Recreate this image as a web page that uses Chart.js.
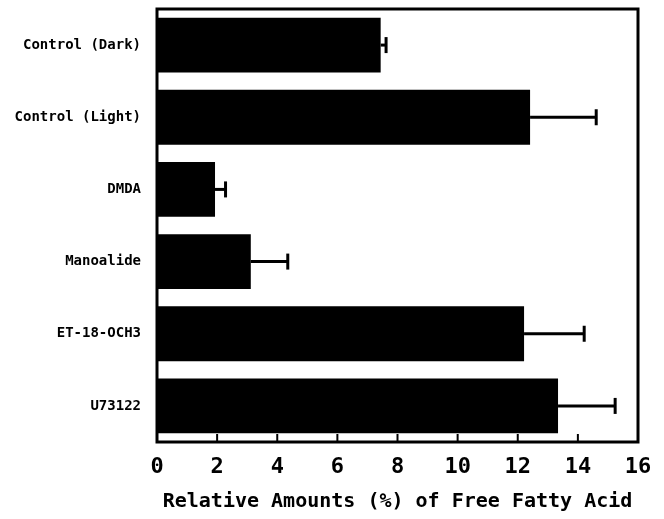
<!DOCTYPE html>
<html>
<head>
<meta charset="utf-8">
<script src="https://cdn.jsdelivr.net/npm/chart.js@4/dist/chart.umd.min.js"></script>
<style>
  html, body { margin: 0; padding: 0; background: #fff; }
  #wrap { width: 664px; height: 519px; }
</style>
</head>
<body>
<div id="wrap"><canvas id="chart" width="664" height="519"></canvas></div>
<script>
var categories = ['Control (Dark)', 'Control (Light)', 'DMDA', 'Manoalide', 'ET-18-OCH3', 'U73122'];
var amounts = [7.44, 12.41, 1.93, 3.12, 12.21, 13.34];
var errors = [0.18, 2.2, 0.35, 1.23, 2.0, 1.9];
var xTicks = [0, 2, 4, 6, 8, 10, 12, 14, 16];

var monoFont = "'DejaVu Sans Mono', 'Liberation Mono', monospace";

// frame, inward ticks and error bars
var extras = {
  id: 'extras',
  afterDatasetsDraw: function(chart) {
    var ctx = chart.ctx;
    var a = chart.chartArea;
    var x = chart.scales.x;
    var meta = chart.getDatasetMeta(0);
    ctx.save();
    ctx.strokeStyle = '#000';
    ctx.fillStyle = '#000';

    // error bars
    ctx.lineWidth = 3;
    meta.data.forEach(function(bar, i) {
      var x0 = x.getPixelForValue(amounts[i]);
      var x1 = x.getPixelForValue(amounts[i] + errors[i]);
      ctx.beginPath();
      ctx.moveTo(x0, bar.y);
      ctx.lineTo(x1, bar.y);
      ctx.stroke();
      ctx.beginPath();
      ctx.moveTo(x1, bar.y - 8);
      ctx.lineTo(x1, bar.y + 8);
      ctx.stroke();
    });

    // ticks pointing up into the plot
    ctx.lineWidth = 2;
    xTicks.forEach(function(v) {
      var px = x.getPixelForValue(v);
      ctx.beginPath();
      ctx.moveTo(px, a.bottom);
      ctx.lineTo(px, a.bottom - 8);
      ctx.stroke();
    });

    ctx.lineWidth = 3;
    ctx.strokeRect(a.left, a.top, a.right - a.left, a.bottom - a.top);
    ctx.restore();
  }
};

new Chart(document.getElementById('chart').getContext('2d'), {
  type: 'bar',
  data: {
    labels: categories,
    datasets: [{
      data: amounts,
      backgroundColor: '#000',
      borderWidth: 0,
      barPercentage: 0.76,
      categoryPercentage: 1
    }]
  },
  options: {
    indexAxis: 'y',
    responsive: false,
    animation: false,
    layout: { padding: { top: 9, right: 26, left: 0, bottom: 0 } },
    plugins: { legend: { display: false }, tooltip: { enabled: false } },
    scales: {
      x: {
        min: 0,
        max: 16,
        afterBuildTicks: function(scale) {
          scale.ticks = xTicks.map(function(v) { return { value: v }; });
        },
        afterFit: function(scale) {
          scale.height = 77;
          scale.paddingLeft = 0;
          scale.paddingRight = 0;
        },
        grid: { display: false, drawTicks: false },
        border: { display: false },
        ticks: {
          padding: 12,
          color: '#000',
          maxRotation: 0,
          font: { family: monoFont, size: 22, weight: 'bold' }
        },
        title: {
          display: true,
          text: 'Relative Amounts (%) of Free Fatty Acid',
          color: '#000',
          padding: { top: 3, bottom: 5 },
          font: { family: monoFont, size: 20, weight: 'bold' }
        }
      },
      y: {
        afterFit: function(scale) {
          scale.width = 157;
          scale.paddingTop = 0;
          scale.paddingBottom = 0;
        },
        grid: { display: false, drawTicks: false },
        border: { display: false },
        ticks: {
          padding: 16,
          color: '#000',
          font: { family: monoFont, size: 14, weight: 'bold' }
        }
      }
    }
  },
  plugins: [extras]
});
</script>
</body>
</html>
